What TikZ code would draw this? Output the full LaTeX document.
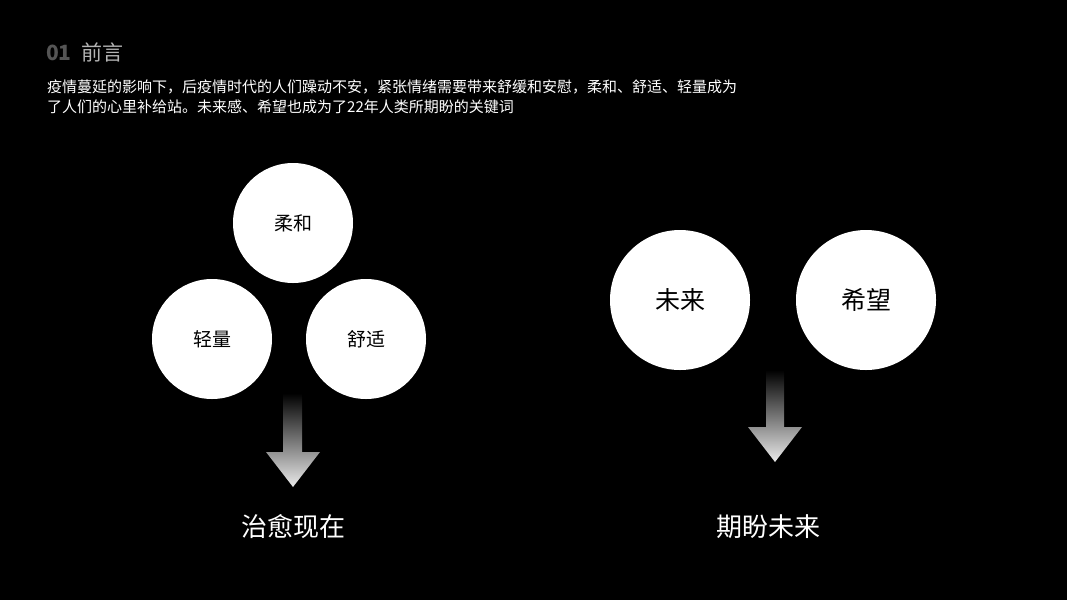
\documentclass[tikz,border=0pt]{standalone}
\usepackage{fontspec}
\setmainfont{Noto Sans CJK SC}
\usetikzlibrary{positioning,calc}

\definecolor{numgray}{HTML}{555555}
\definecolor{headgray}{HTML}{B4B4B4}

\tikzset{
  bubble/.style={circle, fill=white, inner sep=0pt, text=black},
  bodyline/.style={anchor=west, inner sep=0pt, text=white, font=\fontsize{15}{18}\selectfont},
  bigword/.style={inner sep=0pt, text=white, font=\fontsize{26}{30}\selectfont},
  downarrow/.style={top color=black, bottom color=white!92!black, draw=none}
}

\begin{document}
\begin{tikzpicture}[x=1pt, y=-1pt]

% background
\fill[black] (0,0) rectangle (1067,600);
\useasboundingbox (0,0) rectangle (1067,600);

% heading
\node[anchor=west, inner sep=0pt] (head) at (46,52)
  {\fontsize{21}{24}\selectfont\textcolor{numgray}{\textbf{01}}\hspace{10pt}\textcolor{headgray}{前言}};

% intro text
\node[bodyline] (lineA) at (47,87) {疫情蔓延的影响下，后疫情时代的人们躁动不安，紧张情绪需要带来舒缓和安慰，柔和、舒适、轻量成为};
\node[bodyline] (lineB) at (47,107) {了人们的心里补给站。未来感、希望也成为了22年人类所期盼的关键词};

% left group
\node[bubble, minimum size=120pt, font=\fontsize{19}{22}\selectfont] (rouhe) at (293,223) {柔和};
\node[bubble, minimum size=120pt, font=\fontsize{19}{22}\selectfont] (qingliang) at (212,339) {轻量};
\node[bubble, minimum size=120pt, font=\fontsize{19}{22}\selectfont] (shushi) at (366,339) {舒适};

\shade[downarrow] (283,393) -- (302,393) -- (302,452) -- (320,452)
  -- (293,487) -- (266,452) -- (283,452) -- cycle;
\node[bigword] (now) at (293,527) {治愈现在};

% right group
\node[bubble, minimum size=140pt, font=\fontsize{25}{28}\selectfont] (weilai) at (680,300) {未来};
\node[bubble, minimum size=140pt, font=\fontsize{25}{28}\selectfont] (xiwang) at (866,300) {希望};

\shade[downarrow] (766,370) -- (784,370) -- (784,427) -- (802,427)
  -- (775,462) -- (748,427) -- (766,427) -- cycle;
\node[bigword] (future) at (768,527) {期盼未来};

\end{tikzpicture}
\end{document}
